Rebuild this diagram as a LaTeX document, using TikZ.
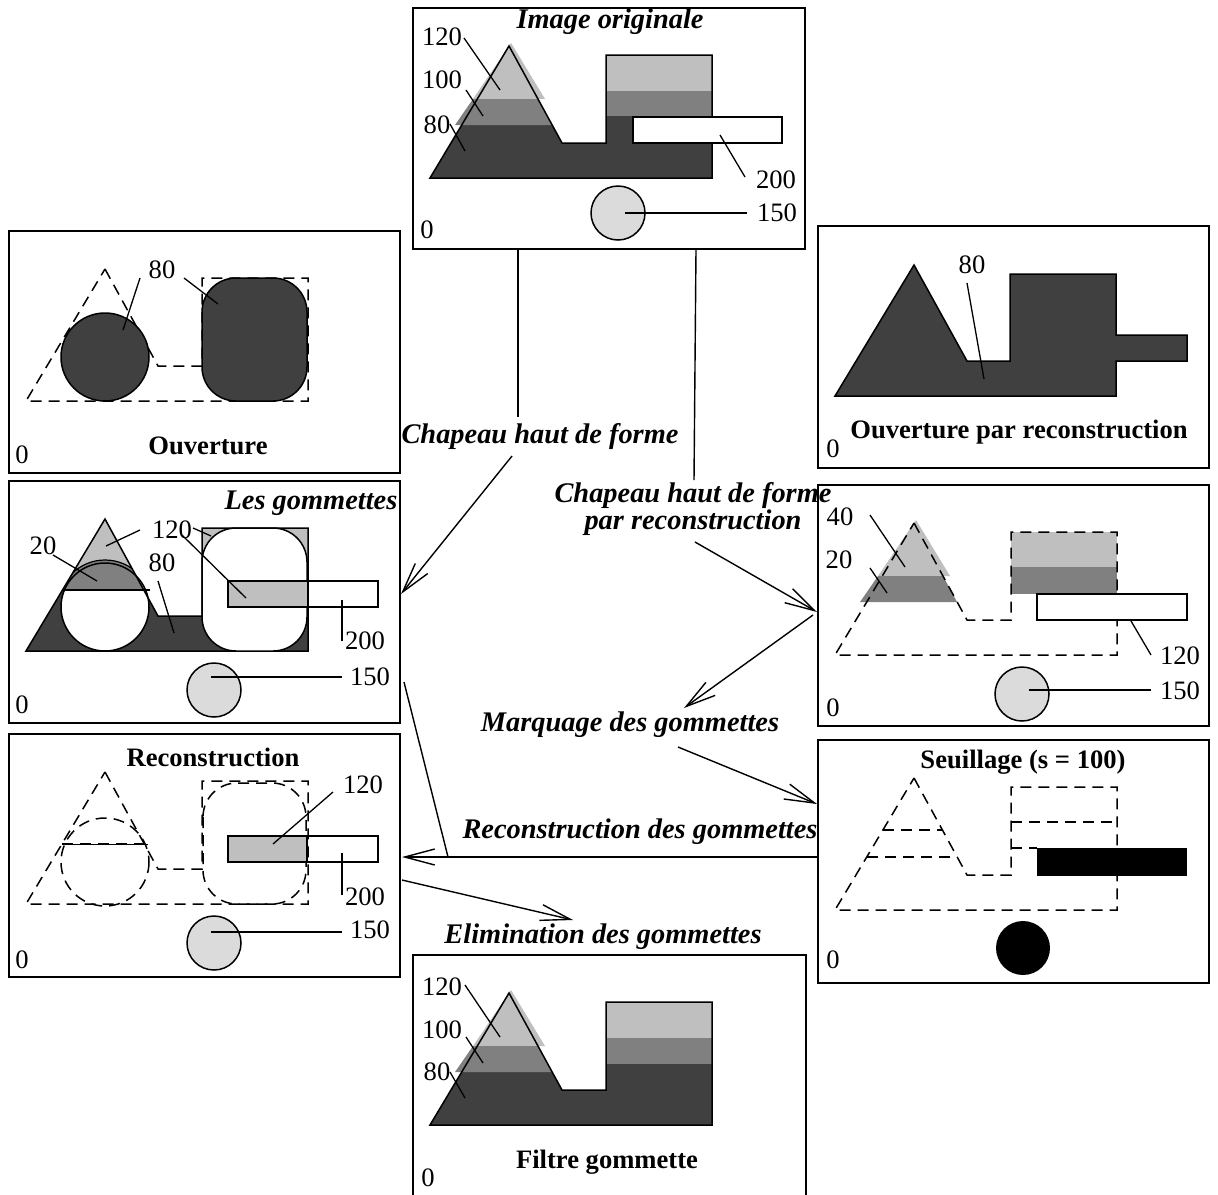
\documentclass[tikz,border=0pt]{standalone}
\usepackage{fontspec}
\setmainfont{Liberation Serif}
\usetikzlibrary{arrows.meta}
\definecolor{dk}{gray}{0.25}
\definecolor{md}{gray}{0.5}
\definecolor{lt}{gray}{0.75}
\definecolor{cl}{gray}{0.86}
\newcommand\shp{(96,38) -- (149,135) -- (193,135) -- (193,47) -- (299,47) -- (299,170) -- (17,170) -- cycle}
\newcommand\lighttri{(98,35) -- (132,91) -- (60,91) -- cycle}
\newcommand\medtri{(60,91) -- (125,91) -- (139,117) -- (42,117) -- cycle}
\tikzset{
  lbl/.style={inner sep=0pt, font=\fontsize{13.3}{15}\selectfont},
  bi/.style={inner sep=0pt, font=\fontsize{14.2}{13.5}\selectfont\bfseries\itshape, align=center},
  bt/.style={inner sep=0pt, font=\fontsize{13.3}{15}\selectfont\bfseries},
  dsh/.style={dash pattern=on 5.5pt off 3.5pt},
  lead/.style={line width=0.65pt},
  arr/.style={line width=0.7pt, -{Straight Barb[length=15pt,width=8pt,line width=0.7pt]}},
  panel/.style={line width=0.8pt}
}
\begin{document}
\begin{tikzpicture}[x=0.5pt,y=-0.5pt,line width=0.75pt]
\useasboundingbox (0,0) rectangle (1218,1194);
\fill[white] (0,0) rectangle (1218,1194);

% ---------- panel boxes
\draw[panel] (413,8) rectangle (805,249);
\draw[panel] (9,231) rectangle (400,473);
\draw[panel] (818,226) rectangle (1209,468);
\draw[panel] (9,481) rectangle (400,723);
\draw[panel] (818,485) rectangle (1209,726);
\draw[panel] (9,734) rectangle (400,977);
\draw[panel] (818,740) rectangle (1209,983);
\draw[panel] (413,955) rectangle (806,1202);

% ---------- panel 1 : image originale
\begin{scope}[shift={(413,8)}]
  \fill[dk] \shp;
  \fill[lt] \lighttri; \fill[md] \medtri;
  \fill[lt] (193,47) rectangle (299,83);
  \fill[md] (193,83) rectangle (299,108);
  \draw \shp;
  \draw[fill=white] (220,109) rectangle (369,135);
  \draw[fill=cl] (205,205) circle[radius=27];
\end{scope}
\node[bi] (t1) at (610,22) {Image originale};
\node[lbl] (a120) at (442,37) {120};
\node[lbl] (a100) at (442,80) {100};
\node[lbl] (a80) at (437,125) {80};
\node[lbl] (a200) at (776,180) {200};
\node[lbl] (a150) at (777,213) {150};
\node[lbl] (a0) at (427,230) {0};
\draw[lead] (464,38) -- (500,90);
\draw[lead] (466,90) -- (483,116);
\draw[lead] (450,124) -- (465,151);
\draw[lead] (745,177) -- (720,135);
\draw[lead] (747,213) -- (625,213);

% ---------- panel 2 : ouverture
\begin{scope}[shift={(9,231)}]
  \draw[dsh] \shp;
  \draw[fill=dk] (96,126) circle[radius=44];
  \draw[fill=dk, rounded corners=17pt] (193,47) rectangle (298,170);
\end{scope}
\node[lbl] (b80) at (162,270) {80};
\node[bt] (t2) at (208,446) {Ouverture};
\node[lbl] (b0) at (22,455) {0};
\draw[lead] (140,278) -- (123,330);
\draw[lead] (184,278) -- (218,304);

% ---------- panel 3 : ouverture par reconstruction
\begin{scope}[shift={(818,226)}]
  \draw[fill=dk] (96,39) -- (149,135) -- (192,135) -- (192,48) -- (298,48) -- (298,109) -- (369,109) -- (369,135) -- (298,135) -- (298,170) -- (17,170) -- cycle;
\end{scope}
\node[lbl] (c80) at (972,265) {80};
\node[bt] (t3) at (1019,432) {Ouverture par reconstruction};
\node[lbl] (c0) at (833,449) {0};
\draw[lead] (967,283) -- (984,379);

% ---------- panel 4 : les gommettes
\begin{scope}[shift={(9,481)}]
  \fill[dk] \shp;
  \begin{scope}
    \clip (0,0) rectangle (392,109);
    \fill[lt] \shp;
    \clip \shp;
    \fill[md] (96,126) circle[radius=47];
  \end{scope}
  \begin{scope}
    \clip (0,109) rectangle (392,200);
    \fill[white] (96,126) circle[radius=44];
  \end{scope}
  \draw \shp;
  \draw (96,126) circle[radius=44];
  \begin{scope}
    \clip \shp; \clip (0,0) rectangle (392,109);
    \draw[line width=0.6pt] (96,126) circle[radius=47];
  \end{scope}
  \draw (53,109) -- (141,109);
  \draw[fill=white, rounded corners=17pt] (193,47) rectangle (298,170);
  \fill[lt] (219,100) rectangle (298,126);
  \draw (219,100) rectangle (369,126);
  \draw[fill=cl] (205,209) circle[radius=27];
\end{scope}
\node[bi] (t4) at (311,503) {Les gommettes};
\node[lbl] (d20) at (43,546) {20};
\node[lbl] (d120) at (172,530) {120};
\node[lbl] (d80) at (162,563) {80};
\node[lbl] (d200) at (365,641) {200};
\node[lbl] (d150) at (370,677) {150};
\node[lbl] (d0) at (22,705) {0};
\draw[lead] (53,555) -- (97,581);
\draw[lead] (140,530) -- (106,546);
\draw[lead] (193,528) -- (211,536);
\draw[lead] (182,535) -- (246,598);
\draw[lead] (158,581) -- (174,633);
\draw[lead] (342,641) -- (342,600);
\draw[lead] (342,677) -- (211,677);

% ---------- panel 5 : chapeau haut de forme par reconstruction
\begin{scope}[shift={(818,485)}]
  \fill[lt] \lighttri; \fill[md] \medtri;
  \fill[lt] (193,47) rectangle (299,82);
  \fill[md] (193,82) rectangle (299,109);
  \draw[dsh] \shp;
  \draw[fill=white] (219,109) rectangle (369,135);
  \draw[fill=cl] (204,209) circle[radius=27];
\end{scope}
\node[lbl] (e40) at (840,517) {40};
\node[lbl] (e20) at (839,560) {20};
\node[lbl] (e120) at (1180,656) {120};
\node[lbl] (e150) at (1180,691) {150};
\node[lbl] (e0) at (833,708) {0};
\draw[lead] (870,515) -- (905,567);
\draw[lead] (870,568) -- (887,593);
\draw[lead] (1151,655) -- (1131,621);
\draw[lead] (1151,690) -- (1029,690);

% ---------- panel 6 : reconstruction
\begin{scope}[shift={(9,734)}]
  \draw[dsh] \shp;
  \draw[dsh] (96,128) circle[radius=44];
  \draw[dsh, rounded corners=17pt] (194,49) rectangle (297,170);
  \draw[line width=0.4pt] (53,110) -- (139,110);
  \draw[dsh] (53,110) -- (139,110);
  \fill[lt] (219,102) rectangle (298,128);
  \draw (219,102) rectangle (369,128);
  \draw (298,102) -- (298,128);
  \draw[fill=cl] (205,209) circle[radius=27];
\end{scope}
\node[bt] (t6) at (213,757) {Reconstruction};
\node[lbl] (f120) at (363,785) {120};
\node[lbl] (f200) at (365,897) {200};
\node[lbl] (f150) at (370,930) {150};
\node[lbl] (f0) at (22,960) {0};
\draw[lead] (333,792) -- (273,844);
\draw[lead] (342,895) -- (342,853);
\draw[lead] (342,932) -- (211,932);

% ---------- panel 7 : seuillage
\begin{scope}[shift={(818,740)}]
  \draw[dsh] \shp;
  \draw[dsh] (65,90) -- (124,90);
  \draw[dsh] (49,117) -- (139,117);
  \draw[dsh] (193,82) -- (299,82);
  \draw[dsh] (193,108) -- (219,108);
  \fill (219,108) rectangle (369,136);
  \fill (205,208) circle[radius=27];
\end{scope}
\node[bt] (t7) at (1023,762) {Seuillage (s = 100)};
\node[lbl] (g0) at (833,960) {0};

% ---------- panel 8 : filtre gommette
\begin{scope}[shift={(413,955)}]
  \fill[dk] \shp;
  \fill[lt] \lighttri; \fill[md] \medtri;
  \fill[lt] (193,47) rectangle (299,83);
  \fill[md] (193,83) rectangle (299,109);
  \draw \shp;
\end{scope}
\node[lbl] (h120) at (442,987) {120};
\node[lbl] (h100) at (442,1030) {100};
\node[lbl] (h80) at (437,1072) {80};
\node[bt] (t8) at (607,1162) {Filtre gommette};
\node[lbl] (h0) at (428,1178) {0};
\draw[lead] (465,985) -- (500,1037);
\draw[lead] (466,1037) -- (483,1063);
\draw[lead] (450,1072) -- (465,1098);

% ---------- connectors
\node[bi] (L1) at (540,437) {Chapeau haut de forme};
\node[bi] (L2) at (693,509) {Chapeau haut de forme\\par reconstruction};
\node[bi] (L3) at (630,725) {Marquage des gommettes};
\node[bi] (L4) at (640,832) {Reconstruction des gommettes};
\node[bi] (L5) at (603,937) {Elimination des gommettes};

\coordinate (c1a) at (518,249);
\coordinate (c1b) at (518,417);
\coordinate (c1c) at (512,456);
\coordinate (c1d) at (401,594);
\coordinate (c2a) at (696,249);
\coordinate (c2b) at (694,480);
\coordinate (c2c) at (695,542);
\coordinate (c2d) at (817,612);
\coordinate (c3a) at (813,615);
\coordinate (c3b) at (684,708);
\coordinate (c4a) at (678,747);
\coordinate (c4b) at (817,804);
\coordinate (c5a) at (818,857);
\coordinate (c5b) at (402,857);
\coordinate (c6a) at (404,682);
\coordinate (c6b) at (448,857);
\coordinate (c7a) at (402,880);
\coordinate (c7b) at (573,920);

\draw[line width=0.7pt] (c1a) -- (c1b);
\draw[arr] (c1c) -- (c1d);
\draw[line width=0.7pt] (c2a) -- (c2b);
\draw[arr] (c2c) -- (c2d);
\draw[arr] (c3a) -- (c3b);
\draw[arr] (c4a) -- (c4b);
\draw[arr] (c5a) -- (c5b);
\draw[line width=0.7pt] (c6a) -- (c6b);
\draw[arr] (c7a) -- (c7b);
\end{tikzpicture}
\end{document}
